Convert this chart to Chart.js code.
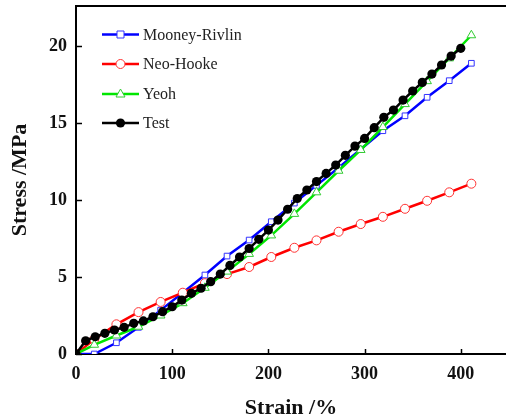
<!DOCTYPE html>
<html>
<head>
<meta charset="utf-8">
<script src="https://cdn.jsdelivr.net/npm/chart.js@4"></script>
<style>
  html, body { margin: 0; padding: 0; background: #fff; overflow: hidden; }
</style>
</head>
<body>
<canvas id="myChart" width="506" height="419"></canvas>
<script>
// strain (%) where the fitted model curves were sampled
const strainModel = [0, 19, 42, 65, 88, 111, 134, 157, 180, 203, 227, 250, 273, 296, 319, 342, 365, 388, 411];
const mooneyRivlin = [0, 0, 0.73, 1.73, 2.85, 3.98, 5.13, 6.36, 7.4, 8.59, 9.8, 10.95, 12.1, 13.3, 14.5, 15.47, 16.67, 17.75, 18.88];
const neoHooke = [0, 0.95, 1.93, 2.72, 3.38, 3.98, 4.6, 5.19, 5.65, 6.3, 6.9, 7.38, 7.94, 8.44, 8.91, 9.43, 9.95, 10.5, 11.06];
const yeoh = [0, 0.6, 1.2, 1.77, 2.5, 3.3, 4.3, 5.35, 6.5, 7.7, 9.1, 10.5, 11.9, 13.25, 14.74, 16.23, 17.72, 19.2, 20.7];

// test data
const strainTest = [0, 10, 20, 30, 40, 50, 60, 70, 80, 90, 100, 110, 120, 130, 140, 150, 160, 170, 180, 190,
  200, 210, 220, 230, 240, 250, 260, 270, 280, 290, 300, 310, 320, 330, 340, 350, 360, 370, 380, 390, 400];
const stressTest = [0, 0.86, 1.12, 1.34, 1.56, 1.73, 1.99, 2.15, 2.42, 2.75, 3.07, 3.5, 3.94, 4.27, 4.7, 5.19, 5.75, 6.3, 6.85, 7.45,
  8.05, 8.7, 9.4, 10.1, 10.65, 11.2, 11.73, 12.27, 12.9, 13.5, 14.0, 14.7, 15.37, 15.84, 16.49, 17.08, 17.64, 18.18, 18.77, 19.35, 19.85];

const xTicks = [0, 100, 200, 300, 400];
const yTicks = [0, 5, 10, 15, 20];
const legendLabels = ['Mooney-Rivlin', 'Neo-Hooke', 'Yeoh', 'Test'];

const pts = (xs, ys) => xs.map((x, i) => ({x: x, y: ys[i]}));
const serif = "'Liberation Serif', 'Times New Roman', serif";

let data1 = {
    datasets: [{
        label: legendLabels[0],
        data: pts(strainModel, mooneyRivlin),
        borderColor: '#0000ff', borderWidth: 2.5,
        pointStyle: 'rect', pointRadius: 4, pointBorderWidth: 1,
        pointBackgroundColor: '#ffffff', pointBorderColor: '#3333ff',
        order: 3
    }, {
        label: legendLabels[1],
        data: pts(strainModel, neoHooke),
        borderColor: '#ff0000', borderWidth: 2.5,
        pointStyle: 'circle', pointRadius: 4.5, pointBorderWidth: 1,
        pointBackgroundColor: '#ffffff', pointBorderColor: '#ff3333',
        order: 2
    }, {
        label: legendLabels[2],
        data: pts(strainModel, yeoh),
        borderColor: '#00e600', borderWidth: 2.5,
        pointStyle: 'triangle', pointRadius: 5, pointBorderWidth: 1,
        pointBackgroundColor: '#ffffff', pointBorderColor: '#33cc33',
        order: 1
    }, {
        label: legendLabels[3],
        data: pts(strainTest, stressTest),
        borderColor: '#000000', borderWidth: 2.5,
        pointStyle: 'circle', pointRadius: 4.6, pointBorderWidth: 0,
        pointBackgroundColor: '#000000',
        order: 0
    }]
};

// inward ticks, top frame line and the legend
const frame = {
    id: 'frame',
    afterDraw(chart) {
        const ctx = chart.ctx;
        const a = chart.chartArea;
        const xs = chart.scales.x, ys = chart.scales.y;
        ctx.save();
        ctx.strokeStyle = '#000';
        ctx.lineWidth = 2;
        ctx.beginPath();
        ctx.moveTo(a.left - 1, a.top);
        ctx.lineTo(a.right, a.top);
        ctx.stroke();
        ctx.lineWidth = 1.5;
        xTicks.forEach(v => {
            const px = Math.round(xs.getPixelForValue(v)) + 0.5;
            ctx.beginPath(); ctx.moveTo(px, a.bottom); ctx.lineTo(px, a.bottom - 5); ctx.stroke();
        });
        yTicks.forEach(v => {
            const py = Math.round(ys.getPixelForValue(v)) + 0.5;
            ctx.beginPath(); ctx.moveTo(a.left, py); ctx.lineTo(a.left + 6, py); ctx.stroke();
        });

        // legend
        const x0 = 102, x1 = 139, tx = 143;
        const rows = [34.5, 64, 94, 123];
        ctx.font = '16px ' + serif;
        ctx.textBaseline = 'middle';
        ctx.textAlign = 'left';
        chart.data.datasets.forEach((ds, i) => {
            const y = rows[i];
            ctx.strokeStyle = ds.borderColor;
            ctx.lineWidth = 2.5;
            ctx.beginPath(); ctx.moveTo(x0, y); ctx.lineTo(x1, y); ctx.stroke();
            const mx = (x0 + x1) / 2;
            ctx.lineWidth = 1;
            ctx.fillStyle = ds.pointBackgroundColor;
            ctx.strokeStyle = ds.pointBorderColor || ds.borderColor;
            ctx.beginPath();
            if (ds.pointStyle === 'rect') {
                ctx.rect(mx - 3.5, y - 3.5, 7, 7);
            } else if (ds.pointStyle === 'triangle') {
                ctx.moveTo(mx, y - 5); ctx.lineTo(mx + 4.5, y + 3); ctx.lineTo(mx - 4.5, y + 3); ctx.closePath();
            } else {
                ctx.arc(mx, y, ds.pointRadius, 0, Math.PI * 2);
            }
            ctx.fill();
            if (ds.pointBorderWidth) ctx.stroke();
            ctx.fillStyle = '#222';
            ctx.fillText(ds.label, tx, y + 1);
        });
        ctx.restore();
    }
};

let options = {
    responsive: false,
    animation: false,
    layout: { autoPadding: false, padding: { top: 6, right: 0, left: 0, bottom: 0 } },
    plugins: { legend: { display: false }, tooltip: { enabled: false } },
    elements: { line: { tension: 0 } },
    scales: {
        x: {
            type: 'linear', min: 0, max: 447,
            afterFit: s => { s.height = 65; s.paddingLeft = 0; s.paddingRight = 0; },
            afterBuildTicks: s => { s.ticks = xTicks.map(v => ({value: v})); },
            grid: { display: true, drawOnChartArea: false, drawTicks: false },
            border: { display: true, color: '#000', width: 2 },
            ticks: { padding: 10, color: '#111', font: { family: serif, size: 18, weight: 'bold' }, maxRotation: 0 },
            title: { display: true, text: 'Strain /%', color: '#111', padding: { top: 0, bottom: 0 },
                font: { family: serif, size: 22, weight: 'bold', lineHeight: 1 } }
        },
        y: {
            type: 'linear', min: 0, max: 22.6,
            afterFit: s => { s.width = 76; s.paddingTop = 0; s.paddingBottom = 0; },
            afterBuildTicks: s => { s.ticks = yTicks.map(v => ({value: v})); },
            grid: { display: true, drawOnChartArea: false, drawTicks: false },
            border: { display: true, color: '#000', width: 2 },
            ticks: { padding: 9, color: '#111', font: { family: serif, size: 18, weight: 'bold' } },
            title: { display: true, text: 'Stress /MPa', color: '#111', padding: { top: 9, bottom: 0 },
                font: { family: serif, size: 22, weight: 'bold', lineHeight: 1 } }
        }
    }
};

var myChart = new Chart(document.getElementById('myChart'), {
    type: 'line',
    data: data1,
    options: options,
    plugins: [frame]
});
</script>
</body>
</html>
